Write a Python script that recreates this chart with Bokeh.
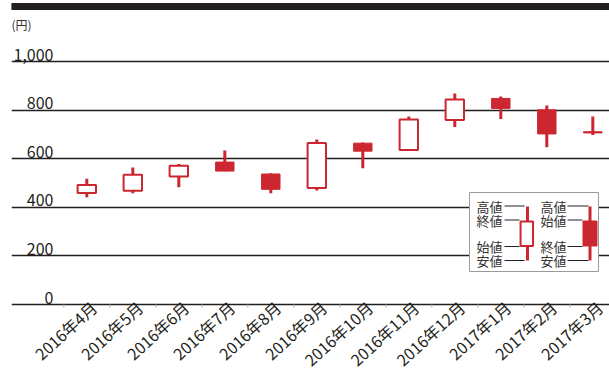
from bokeh.plotting import figure
from bokeh.models import Range1d, FixedTicker, Grid
from bokeh.core.properties import value
from bokeh.embed import file_html
from bokeh.resources import INLINE

# ---------------- data ----------------
months = ["2016年4月", "2016年5月", "2016年6月", "2016年7月", "2016年8月", "2016年9月",
          "2016年10月", "2016年11月", "2016年12月", "2017年1月", "2017年2月", "2017年3月"]
open_ = [459, 468, 527, 586, 537, 479, 664, 636, 759, 848, 801, 711]
high = [518, 564, 578, 634, 540, 679, 667, 774, 868, 856, 819, 774]
low = [441, 458, 483, 548, 458, 469, 561, 636, 730, 763, 647, 698]
close = [492, 534, 571, 549, 474, 665, 631, 761, 844, 807, 702, 706]
yticks = [0, 200, 400, 600, 800, 1000]
ylabels = ["0", "200", "400", "600", "800", "1,000"]
unit_label = "(円)"
legend_up_labels = ["高値", "終値", "始値", "安値"]
legend_down_labels = ["高値", "始値", "終値", "安値"]

# ---------------- layout / style ----------------
W, H = 609, 371
FRAME_LEFT = 11
AXIS_PX = 304          # pixel row of the value 0
PX_PER_CAT = 46.0
FIRST_CENTER_PX = 86.3
PX_PER_YEN = 0.243
RED = "#cc2630"
INK = "#231f20"
FONT = "Noto Sans CJK JP"

x_start = (FRAME_LEFT - FIRST_CENTER_PX) / PX_PER_CAT
x_end = (W - FIRST_CENTER_PX) / PX_PER_CAT
y_start = -(H - AXIS_PX) / PX_PER_YEN
y_end = AXIS_PX / PX_PER_YEN


def px_x(px):
    return x_start + (px - FRAME_LEFT) / PX_PER_CAT


def px_y(py):
    return (AXIS_PX - py) / PX_PER_YEN


p = figure(width=W, height=H, x_range=Range1d(x_start, x_end), y_range=Range1d(y_start, y_end),
           output_backend="svg", toolbar_location=None, x_axis_location=None,
           y_axis_location=None, min_border_left=FRAME_LEFT, min_border_right=0,
           min_border_top=0, min_border_bottom=0)
p.outline_line_color = None
p.grid.visible = False
p.add_layout(Grid(dimension=1, ticker=FixedTicker(ticks=yticks),
                  grid_line_color=INK, grid_line_width=1.5))

xs = list(range(len(months)))

# category boundary tick marks under the zero line
bounds = [i - 0.5 for i in range(len(months) + 1)]
p.segment(x0=bounds, x1=bounds, y0=[0] * len(bounds), y1=[-3 / PX_PER_YEN] * len(bounds),
          line_color="#aaaaaa", line_width=1)

# month labels
p.text(x=xs, y=[0] * len(xs), text=months, angle=0.74, x_offset=7, y_offset=0,
       text_align="right", text_baseline="middle", text_font=value(FONT),
       text_font_size="16px", text_color=INK)

# top black rule
p.quad(left=[x_start], right=[x_end], top=[px_y(3)], bottom=[px_y(9)], color=INK)

# y labels above the grid lines
p.text(x=[x_start] * len(yticks), y=yticks, text=ylabels, x_offset=42, y_offset=-7,
       text_align="right", text_baseline="alphabetic", text_font=value(FONT),
       text_font_size="16px", text_color=INK)
p.text(x=[x_start], y=[yticks[-1]], text=[unit_label], x_offset=0, y_offset=-37,
       text_align="left", text_baseline="alphabetic", text_font=value(FONT),
       text_font_size="12px", text_color="#333333")

# candles
p.segment(x0=xs, y0=low, x1=xs, y1=high, line_color=RED, line_width=3)
up = [i for i in xs if close[i] >= open_[i]]
dn = [i for i in xs if close[i] < open_[i]]
p.vbar(x=up, width=0.4, top=[close[i] for i in up], bottom=[open_[i] for i in up],
       fill_color="white", line_color=RED, line_width=2)
p.vbar(x=dn, width=0.4, top=[open_[i] for i in dn], bottom=[close[i] for i in dn],
       fill_color=RED, line_color=RED, line_width=1)

# legend (drawn in pixel positions converted to data units)
p.quad(left=[px_x(469)], right=[px_x(598)], top=[px_y(192)], bottom=[px_y(271)],
       fill_color="white", line_color="#9a9a9a", line_width=1)
rows_py = [205.5, 219.5, 246, 260]
p.text(x=[px_x(476)] * 4 + [px_x(540)] * 4, y=[px_y(v) for v in rows_py] * 2,
       text=legend_up_labels + legend_down_labels, text_align="left", text_baseline="middle",
       text_font=value(FONT), text_font_size="13px", text_color="#333333")
lead_x0 = [504, 504, 504, 504, 567, 567, 567, 567]
lead_x1 = [524, 519, 519, 524, 588, 582, 582, 588]
p.segment(x0=[px_x(v) for v in lead_x0], x1=[px_x(v) for v in lead_x1],
          y0=[px_y(v) for v in rows_py] * 2, y1=[px_y(v) for v in rows_py] * 2,
          line_color=INK, line_width=1)
p.segment(x0=[px_x(527), px_x(589.5)], x1=[px_x(527), px_x(589.5)],
          y0=[px_y(206)] * 2, y1=[px_y(260)] * 2, line_color=RED, line_width=3)
p.vbar(x=[px_x(526.3)], width=12.5 / PX_PER_CAT, top=[px_y(221)], bottom=[px_y(245.5)],
       fill_color="white", line_color=RED, line_width=2)
p.vbar(x=[px_x(589.5)], width=14 / PX_PER_CAT, top=[px_y(220.5)], bottom=[px_y(245.5)],
       fill_color=RED, line_color=RED, line_width=1)

open("out.html", "w").write(file_html(p, INLINE))
